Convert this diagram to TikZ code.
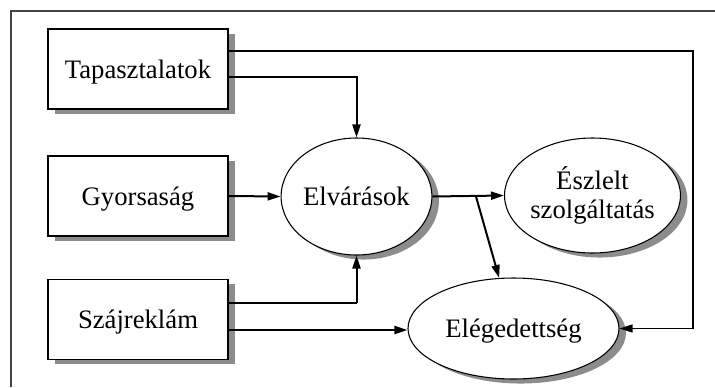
\documentclass[tikz,border=0pt]{standalone}
\usepackage{fontspec}
\setmainfont{Liberation Serif}
\usetikzlibrary{arrows.meta,shadows,shapes.geometric}
\definecolor{framegray}{HTML}{444444}
\definecolor{shadowgray}{HTML}{8C8C8C}
\tikzset{
  sh/.style={drop shadow={shadow xshift=5.25pt,shadow yshift=-3.4pt,fill=shadowgray,opacity=1}},
  oneline/.style={text height=13.7pt,text depth=0pt},
  factor/.style={draw,line width=1pt,fill=white,sh,minimum width=135pt,minimum height=60pt,inner sep=0pt,
    oneline,font=\fontsize{20}{22.5}\selectfont},
  oval/.style={draw,ellipse,line width=0.8pt,fill=white,sh,inner sep=0pt,align=center,
    font=\fontsize{20}{22.5}\selectfont},
  tip/.style={-{Triangle[length=9.75pt,width=6pt]}},
  thinline/.style={line width=0.9pt},
  thickline/.style={line width=1.5pt},
}
\begin{document}
\begin{tikzpicture}[x=0.75pt,y=-0.75pt]
\useasboundingbox (0,0) rectangle (715,387);
% outer frame
\draw[framegray,line width=1pt] (11,387) -- (11,11) -- (715,11);

% input factors
\node[factor] (T) at (138,69) {Tapasztalatok};
\node[factor] (G) at (138,196) {Gyorsaság};
\node[factor] (S) at (138,319.5) {Szájreklám};

% constructs
\node[oval,oneline,minimum width=105.75pt,minimum height=87.75pt] (E) at (356.5,196.5) {Elvárások};
\node[oval,minimum width=105.75pt,minimum height=86.25pt] (P) at (592.5,195.5) {Észlelt\\[-1pt]szolgáltatás};
\node[oval,oneline,minimum width=158.25pt,minimum height=75.75pt] (C) at (513.5,328.5) {Elégedettség};

% connectors
\coordinate (s1) at (E.south |- 0,303);
\coordinate (br) at (476,196.5);
\draw[thinline,tip] (T.east |- 0,51) -- (693,51) |- (C.east);
\draw[thickline,tip] (T.east |- 0,77) -| (E.north);
\draw[thickline,tip] (G.east) -- (E.west);
\draw[thinline] (S.east |- s1) -- (s1);
\draw[thickline,tip] (s1) -- (E.south);
\draw[thickline,tip] (S.east |- 0,330) -- (C.west |- 0,330);
\draw[thickline,tip] (E.east) -- (P.west);
\draw[thickline,tip] (br) -- (C);
\end{tikzpicture}
\end{document}
